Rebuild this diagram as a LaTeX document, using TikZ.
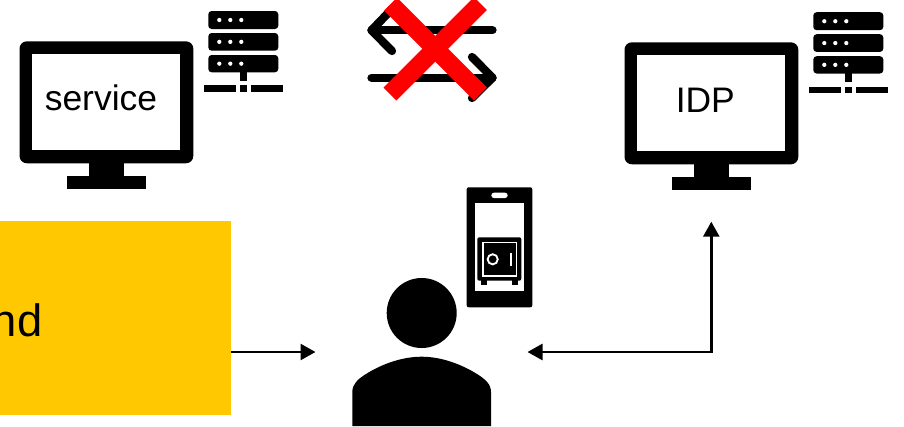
\documentclass[tikz,border=0pt]{standalone}
\usepackage{fontspec}
\setmainfont{Liberation Sans}
\usetikzlibrary{arrows.meta}
\tikzset{
  px/.style={x=0.75pt,y=-0.75pt},
  blk/.style={fill=black,draw=none},
  wht/.style={fill=white,draw=none},
  flow/.style={draw=black,line width=1.9pt,
    {Triangle[length=11.25pt,width=12pt]}-{Triangle[length=11.25pt,width=12pt]}},
  flowone/.style={draw=black,line width=1.9pt,-{Triangle[length=11.25pt,width=12pt]}},
  swap/.style={draw=black,line width=6.2pt,line cap=round,line join=round},
  nope/.style={draw={rgb,255:red,255;green,0;blue,0},line width=13.6pt},
  monlabel/.style={inner sep=0pt,font=\fontsize{26.6}{30}\selectfont,text=black},
  bigt/.style={inner sep=0pt,font=\fontsize{34}{38}\selectfont,text=black},
  goldbox/.style={fill={rgb,255:red,255;green,200;blue,0},draw=none,inner sep=0pt,
    minimum width=173.25pt,minimum height=145.3pt},
  monitor/.pic={
    \fill[blk,rounded corners=5.5pt] (19.5,41.3) rectangle (193.3,163.3);
    \fill[wht] (32.3,54.3) rectangle (180.3,150.3);
    \fill[blk] (89,163) rectangle (123.7,176.5);
    \fill[blk] (67,176) rectangle (145.7,189.3);
  },
  serverrack/.pic={
    \foreach \t/\b in {11/29,33/50.7,55/72.3}{
      \fill[blk,rounded corners=2.5pt] (208.3,\t) rectangle (278.3,\b);
      \foreach \cx in {219.3,230.3,241.3}
        \fill[wht] (\cx,{(\t+\b)/2}) circle[radius=1.6pt];
    }
    \fill[blk] (240,72) rectangle (246.7,80.7);
    \fill[blk] (204,85.3) rectangle (236,91.7);
    \fill[blk] (240,85.3) rectangle (246.7,91.7);
    \fill[blk] (251,85.3) rectangle (282.7,91.7);
  },
}
\begin{document}
\begin{tikzpicture}[px]
\useasboundingbox (0,0) rectangle (904,426);
\fill[white] (0,0) rectangle (904,426);

% left and right stations
\pic at (0,0) {monitor};
\pic at (0,0) {serverrack};
\pic at (605,1) {monitor};
\pic at (605,1.2) {serverrack};
\node[monlabel,anchor=base west] (service) at (44.5,110.8) {service};
\node[monlabel,anchor=base west] (idp) at (675.5,112.2) {IDP};

% crossed out exchange
\draw[swap] (492.5,30.3) -- (371.5,30.3);
\draw[swap] (392,9) -- (371.5,30.3) -- (392,51);
\draw[swap] (371.5,77.7) -- (492.5,77.7);
\draw[swap] (472,57) -- (492.5,77.7) -- (472,98);
\draw[nope] (390.5,4) -- (480.5,94);
\draw[nope] (390,94) -- (480.5,3.5);

% gold box
\node[goldbox] (gold) at (115.5,317.85) {};
\node[bigt,anchor=base east] (goldtext) at (42.5,336.5) {nd};

% person
\fill[blk] (421.7,313) circle[radius=26.25pt];
\fill[blk] (352.3,426) -- (352.3,392)
  .. controls (352.3,384) and (358,379) .. (366,374)
  .. controls (382,364) and (402,356.7) .. (421.7,356.7)
  .. controls (441,356.7) and (461,364) .. (477,374)
  .. controls (485,379) and (491,384) .. (491,392)
  -- (491,426) -- cycle;
\coordinate (personL) at (315.5,352);
\coordinate (personR) at (527.5,352);

% phone with safe
\fill[blk,rounded corners=1.5pt] (466.7,187.3) rectangle (532.3,307.3);
\fill[wht] (474.7,203.3) rectangle (524.3,291);
\fill[wht,rounded corners=2pt] (491.3,192.7) rectangle (507.7,198);
\fill[blk,rounded corners=1.5pt] (477.3,237.3) rectangle (521.3,280.7);
\fill[blk] (481,280) rectangle (487,285);
\fill[blk] (512,280) rectangle (518,285);
\draw[white,line width=1.3pt] (483,242.5) rectangle (516.5,276);
\draw[white,line width=1.4pt] (492.7,259.3) circle[radius=3.8pt];
\fill[wht] (510,252.7) rectangle (512.3,266);

% connectors
\coordinate (idpIn) at (711.3,221.7);
\draw[flowone] (gold.east |- personL) -- (personL);
\draw[flow] (personR) -- (idpIn |- personR) -- (idpIn);
\end{tikzpicture}
\end{document}
